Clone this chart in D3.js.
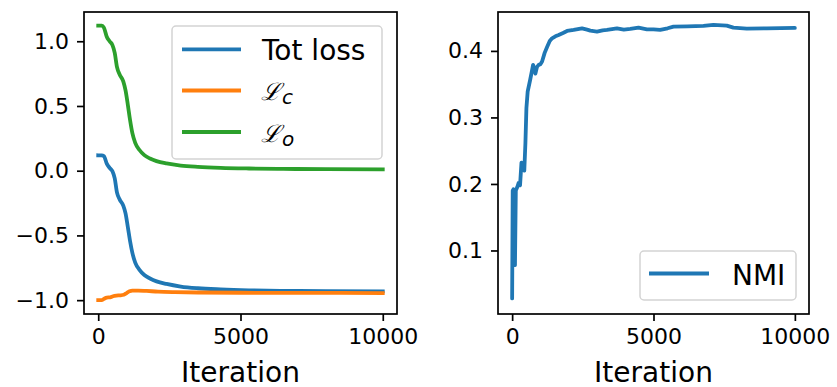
<!DOCTYPE html>
<html>
<head>
<meta charset="utf-8">
<script src="https://cdn.jsdelivr.net/npm/d3@7"></script>
<style>
  html, body { margin: 0; padding: 0; background: #fff; }
  svg { display: block; font-family: "DejaVu Sans", sans-serif; }
</style>
</head>
<body>
<svg id="fig" width="837" height="387"></svg>
<script>
// ---- training curves: [iteration, value] ----
const lossO = [
  [0,1.121],[120,1.12],[200,1.105],[300,1.035],[400,1.0],[500,0.97],[580,0.91],[660,0.80],
  [760,0.74],[880,0.69],[960,0.62],[1040,0.51],[1120,0.39],[1200,0.29],[1300,0.215],
  [1450,0.16],[1620,0.12],[1820,0.094],[2050,0.074],[2400,0.056],[2900,0.040],[3500,0.030],
  [4300,0.022],[5300,0.017],[6500,0.014],[8000,0.012],[10000,0.011]
];
const lossC = [
  [0,-1.0],[120,-1.0],[200,-0.99],[300,-0.98],[420,-0.978],[520,-0.97],[640,-0.965],
  [760,-0.963],[900,-0.958],[1000,-0.945],[1100,-0.932],[1200,-0.926],[1400,-0.926],
  [1700,-0.929],[2100,-0.934],[2700,-0.938],[3500,-0.941],[5000,-0.943],[7000,-0.944],[10000,-0.945]
];
const lossTot = [
  [0,0.119],[120,0.118],[200,0.113],[300,0.055],[400,0.022],[500,-0.005],[580,-0.06],[660,-0.17],
  [760,-0.225],[880,-0.27],[960,-0.33],[1040,-0.435],[1120,-0.545],[1200,-0.635],[1300,-0.71],
  [1450,-0.766],[1620,-0.806],[1820,-0.833],[2050,-0.855],[2400,-0.875],[2900,-0.895],[3500,-0.908],
  [4300,-0.917],[5300,-0.924],[6500,-0.928],[8000,-0.93],[10000,-0.932]
];
const nmi = [
  [0,0.028],[20,0.19],[45,0.192],[70,0.085],[100,0.078],[130,0.19],[180,0.195],[230,0.2015],
  [280,0.198],[330,0.232],[380,0.228],[430,0.22],[470,0.262],[505,0.314],[550,0.339],[640,0.357],
  [700,0.37],[741,0.379],[790,0.372],[823,0.366],[880,0.376],[939,0.379],[1000,0.38],[1059,0.384],
  [1150,0.397],[1236,0.406],[1330,0.415],[1412,0.419],[1530,0.422],[1645,0.424],[1800,0.427],
  [1942,0.43],[2175,0.4315],[2472,0.434],[2650,0.432],[2765,0.4305],[3001,0.429],[3200,0.431],
  [3354,0.4315],[3708,0.434],[3950,0.432],[4177,0.433],[4470,0.435],[4767,0.4325],[5000,0.4325],
  [5236,0.4315],[5500,0.434],[5706,0.4365],[6200,0.437],[6766,0.4375],[7119,0.439],[7590,0.438],
  [7825,0.435],[8298,0.4335],[9004,0.434],[10000,0.4345]
];

// ---- axis ticks and labels ----
const xTicks = [0, 5000, 10000];
const yTicksLoss = [-1.0, -0.5, 0.0, 0.5, 1.0];
const yTicksNmi = [0.1, 0.2, 0.3, 0.4];
const xLabel = "Iteration";
const colors = { tot: "#1f77b4", c: "#ff7f0e", o: "#2ca02c" };

const svg = d3.select("#fig");
const TICK_FS = 22, LABEL_FS = 28, LW = 3.8;

function fmtTick(v) {
  const s = d3.format(".1f")(Math.abs(v));
  return (v < 0 ? "\u2212" : "") + s;
}

function panel(box, xDomain, yDomain, yTicks, yFmt) {
  const g = svg.append("g");
  const x = d3.scaleLinear().domain(xDomain).range([box.x0, box.x1]);
  const y = d3.scaleLinear().domain(yDomain).range([box.y1, box.y0]);

  const clipId = "clip" + Math.round(box.x0);
  svg.append("clipPath").attr("id", clipId).append("rect")
    .attr("x", box.x0).attr("y", box.y0)
    .attr("width", box.x1 - box.x0).attr("height", box.y1 - box.y0);
  const plot = g.append("g").attr("clip-path", `url(#${clipId})`);

  // axes
  const xAxis = d3.axisBottom(x).tickValues(xTicks).tickSize(7).tickPadding(7)
    .tickFormat(d3.format("d"));
  const yAxis = d3.axisLeft(y).tickValues(yTicks).tickSize(7).tickPadding(8)
    .tickFormat(yFmt);
  const gx = g.append("g").attr("transform", `translate(0,${box.y1})`).call(xAxis);
  const gy = g.append("g").attr("transform", `translate(${box.x0},0)`).call(yAxis);
  [gx, gy].forEach(a => {
    a.select(".domain").remove();
    a.selectAll(".tick line").attr("stroke", "#000").attr("stroke-width", 1.7);
    a.selectAll(".tick text").attr("fill", "#000")
      .style("font-family", "DejaVu Sans").style("font-size", TICK_FS + "px");
  });

  // frame
  g.append("rect")
    .attr("x", box.x0).attr("y", box.y0)
    .attr("width", box.x1 - box.x0).attr("height", box.y1 - box.y0)
    .attr("fill", "none").attr("stroke", "#000").attr("stroke-width", 1.7);

  g.append("text")
    .attr("x", (box.x0 + box.x1) / 2).attr("y", 381.5)
    .attr("text-anchor", "middle").style("font-size", LABEL_FS + "px")
    .text(xLabel);

  return { x, y, plot, g };
}

// ---- left panel: losses ----
const L = panel({ x0: 84, x1: 397, y0: 12, y1: 314 }, [-500, 10500], [-1.107, 1.226],
  yTicksLoss, fmtTick);
const smooth = d3.line().x(d => L.x(d[0])).y(d => L.y(d[1])).curve(d3.curveMonotoneX);
[[lossTot, colors.tot], [lossC, colors.c], [lossO, colors.o]].forEach(([data, col]) => {
  L.plot.append("path").attr("d", smooth(data)).attr("fill", "none")
    .attr("stroke", col).attr("stroke-width", LW)
    .attr("stroke-linejoin", "round").attr("stroke-linecap", "square");
});

// legend for losses
const lg = svg.append("g");
lg.append("rect").attr("x", 172).attr("y", 26).attr("width", 210).attr("height", 133)
  .attr("rx", 4).attr("fill", "#fff").attr("fill-opacity", 0.8)
  .attr("stroke", "#d3d3d3").attr("stroke-width", 1.5);
const legRows = [
  { col: colors.tot, y: 49.3 },
  { col: colors.c, y: 90.5 },
  { col: colors.o, y: 132 }
];
legRows.forEach(r => {
  lg.append("line").attr("x1", 182).attr("x2", 241).attr("y1", r.y).attr("y2", r.y)
    .attr("stroke", r.col).attr("stroke-width", LW).attr("stroke-linecap", "butt");
});
lg.append("text").attr("x", 262).attr("y", 60).style("font-size", LABEL_FS + "px").text("Tot loss");
[["c", 100], ["o", 141.5]].forEach(([sub, base]) => {
  const t = lg.append("text").attr("x", 261).attr("y", base)
    .style("font-family", "DejaVu Serif").style("font-size", "24px");
  t.append("tspan").style("font-style", "italic").text("\u2112");
  t.append("tspan").attr("dy", 4).attr("dx", 1)
    .style("font-family", "DejaVu Sans").style("font-style", "italic")
    .style("font-size", "20px").text(sub);
});

// ---- right panel: NMI ----
const R = panel({ x0: 498, x1: 809, y0: 12, y1: 314 }, [-500, 10500], [0.0045, 0.4585],
  yTicksNmi, d3.format(".1f"));
const jag = d3.line().x(d => R.x(d[0])).y(d => R.y(d[1]));
R.plot.append("path").attr("d", jag(nmi)).attr("fill", "none")
  .attr("stroke", colors.tot).attr("stroke-width", LW)
  .attr("stroke-linejoin", "round").attr("stroke-linecap", "round");

const rg = svg.append("g");
rg.append("rect").attr("x", 640).attr("y", 251).attr("width", 156).attr("height", 49)
  .attr("rx", 4).attr("fill", "#fff").attr("fill-opacity", 0.8)
  .attr("stroke", "#d3d3d3").attr("stroke-width", 1.5);
rg.append("line").attr("x1", 649).attr("x2", 709).attr("y1", 273.5).attr("y2", 273.5)
  .attr("stroke", colors.tot).attr("stroke-width", LW);
rg.append("text").attr("x", 732).attr("y", 285).style("font-size", LABEL_FS + "px").text("NMI");
</script>
</body>
</html>
